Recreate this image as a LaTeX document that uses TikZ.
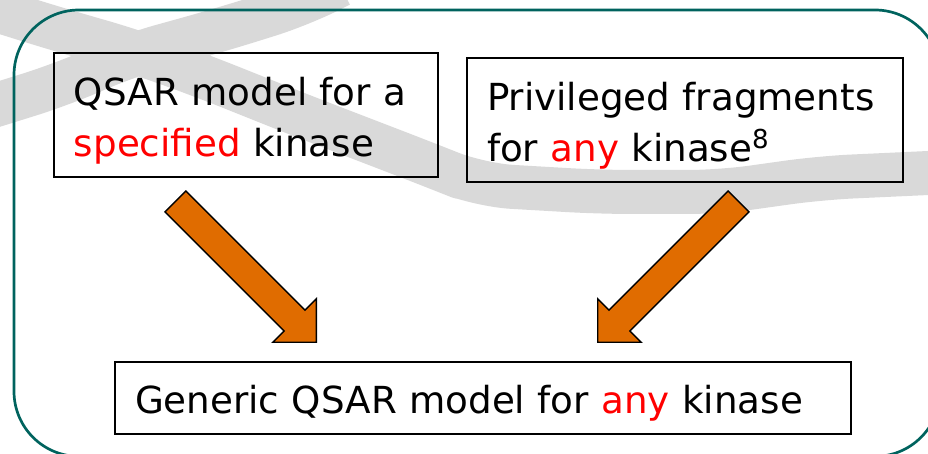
\documentclass[tikz,border=0pt]{standalone}
\usepackage{fontspec}
\setmainfont{DejaVu Sans}
\usepackage{xcolor}
\usetikzlibrary{shapes.arrows}

\definecolor{frameteal}{RGB}{0,99,94}
\definecolor{arroworange}{RGB}{224,108,0}
\definecolor{bandgray}{RGB}{217,217,217}

% the two gray bands, in picture coordinates
\newcommand{\graybands}{%
	\draw[gray band, reset cm] (-0.5,11.225) -- (1.5,10.6) -- (3.25,10.1) -- (5,9.475) -- (7.5,8.475)
		-- (10.75,7.225) -- (12,6.725) -- (15,6.55) -- (18,6.55) -- (20.5,6.9) -- (23.75,7.05)
		(-0.5,8.6) -- (1.5,9.225) -- (3.25,9.975) -- (5.5,10.6) -- (7.5,11.225) -- (8.5,11.725);}

\begin{document}
\begin{tikzpicture}[
		% Define styles
		gray band/.style={
			draw=bandgray,
			line width=1.1cm,
			line join=round,
			rounded corners=0.8cm
		},
		outer frame/.style={
			draw=frameteal,
			line width=1.9pt,
			rounded corners=1.625cm
		},
		textbox/.style={
			rectangle,
			draw,
			line width=1.3pt,
			path picture={\graybands},
			font=\fontsize{26.5}{36.3}\selectfont,
			align=left,
			inner xsep=0.5cm,
			inner ysep=0pt,
			text height=0.8cm,
			text depth=1.27cm
		},
		% Define arrow style
		fat arrow/.style={
			single arrow,
			draw,
			line width=1pt,
			fill=arroworange,
			inner xsep=0pt,
			inner ysep=0.35cm,
			single arrow head extend=0.4cm,
			minimum height=4.98cm,
			anchor=tip
		}
		]
		
		\useasboundingbox (0,0) rectangle (23.2,11.35);
		
		% ----- Gray bands in the background -----
		\graybands
		
		% ----- Outer frame -----
		\draw[outer frame] (0.35,-0.06) rectangle (23.5,11.1);
		
		% ----- Source boxes -----
		\node[textbox, text width=8.6cm, minimum height=3.1cm] (qsar) at (6.15,8.475)
		{QSAR model for a\\ \textcolor{red}{specified} kinase};
		\node[textbox, text width=9.9cm, minimum height=3.1cm] (fragments) at (17.125,8.35)
		{Privileged fragments\\ for \textcolor{red}{any} kinase\textsuperscript{8}};
		
		% ----- Target box -----
		\node[textbox, text width=17.4cm, minimum height=1.8cm, text depth=0pt] (generic) at (12.075,1.4)
		{Generic QSAR model for \textcolor{red}{any} kinase};
		
		% ----- Block arrows -----
		\node[fat arrow, rotate=-45] (qsar-arrow) at (7.925,2.775) {};
		\node[fat arrow, rotate=-135] (fragments-arrow) at (14.925,2.775) {};
		
	\end{tikzpicture}
\end{document}
